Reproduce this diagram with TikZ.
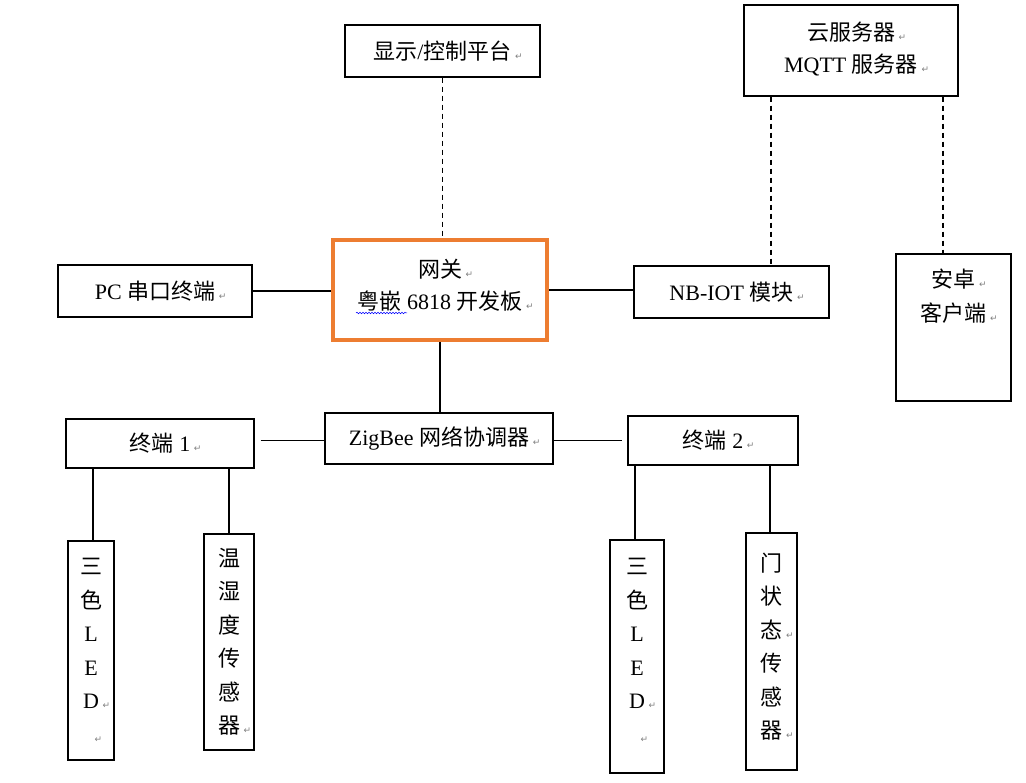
\documentclass[tikz,border=0pt]{standalone}
\usepackage{fontspec}
\setmainfont{Liberation Serif}
\newfontfamily\cjk{Noto Sans CJK SC}
\newfontfamily\symfont{DejaVu Sans}
\usetikzlibrary{positioning,decorations.pathmorphing}
\definecolor{gworange}{RGB}{237,125,49}
\newcommand{\zh}[1]{{\cjk #1}}
\newcommand{\pmark}{\rlap{\,\textcolor{gray}{\symfont\fontsize{9}{9}\selectfont ↵}}}
\tikzset{
	box/.style={draw, line width=1.3pt, fill=white, align=center, inner sep=0pt, font=\fontsize{22}{32}\selectfont},
	vbox/.style={box, font=\fontsize{22}{33.5}\selectfont},
	link/.style={line width=1.3pt},
	dashlink/.style={link, dash pattern=on 5pt off 4pt}
}

\begin{document}
\begin{tikzpicture}[x=1pt, y=-1pt]
		\useasboundingbox (0,0) rectangle (1026,783);
		% top row
		\node[box, minimum width=195, minimum height=52] (disp) at (442.5,51) {\zh{显示}/\zh{控制平台}\pmark};
		\node[box, minimum width=214, minimum height=91] (cloud) at (851,50.5) {\zh{云服务器}\pmark\\MQTT \zh{服务器}\pmark\\[-26pt]~};
		% middle row
		\node[box, draw=gworange, line width=4pt, minimum width=214, minimum height=100] (gw) at (440,290) {\zh{网关}\pmark\\\zh{粤嵌} 6818 \zh{开发板}\pmark\\[-20pt]~};
		\node[box, minimum width=194, minimum height=52] (pc) at (155,291) {PC \zh{串口终端}\pmark};
		\node[box, minimum width=195, minimum height=52] (nb) at (731.5,292) {NB-IOT \zh{模块}\pmark};
		\node[box, minimum width=115, minimum height=147] (app) at (953.5,327.5) {\zh{安卓}\pmark\\[2pt]\zh{客户端}\pmark\\~\\~};
		% zigbee row
		\node[box, minimum width=228, minimum height=51] (zig) at (439,438.5) {ZigBee \zh{网络协调器}\pmark};
		\node[box, minimum width=188, minimum height=49] (t1) at (160,443.5) {\zh{终端} 1\pmark};
		\node[box, minimum width=170, minimum height=49] (t2) at (713,440.5) {\zh{终端} 2\pmark};
		% sensors
		\node[vbox, minimum width=46, minimum height=219] (led1) at (91,650.5) {\zh{三}\\\zh{色}\\L\\E\\D\pmark\\\pmark};
		\node[vbox, minimum width=50, minimum height=216] (th) at (229,642) {\zh{温}\\\zh{湿}\\\zh{度}\\\zh{传}\\\zh{感}\\\zh{器}\pmark};
		\node[vbox, minimum width=54, minimum height=233] (led2) at (637,656.5) {\zh{三}\\\zh{色}\\L\\E\\D\pmark\\\pmark\\[-21.5pt]~};
		\node[vbox, minimum width=51, minimum height=237] (door) at (771.5,651.5) {\zh{门}\\\zh{状}\\\zh{态}\pmark\\\zh{传}\\\zh{感}\\\zh{器}\pmark\\[-21.5pt]~};
		% spell check mark
		\draw[blue, line width=0.5pt, decorate, decoration={snake, amplitude=0.8pt, segment length=3pt}] (356,313) -- (407,313);
		% links
		\draw[dashlink] (disp.south) -- (disp.south |- gw.north);
		\draw[dashlink] ([xshift=-80pt]cloud.south) -- ([xshift=-80pt]cloud.south |- nb.north);
		\draw[dashlink] ([xshift=92pt]cloud.south) -- ([xshift=92pt]cloud.south |- app.north);
		\draw[link] (pc.east) -- (pc.east -| gw.west);
		\draw[link] (gw.east) -- (gw.east -| nb.west);
		\draw[link] (gw.south) -- (gw.south |- zig.north);
		\draw[link] ([xshift=6pt,yshift=-2pt]t1.east |- zig.west) -- ([yshift=-2pt]zig.west);
		\draw[link] ([yshift=-2pt]zig.east) -- ([xshift=-5pt,yshift=-2pt]zig.east -| t2.west);
		\draw[link] ([xshift=2pt]led1.north |- t1.south) -- ([xshift=2pt]led1.north);
		\draw[link] (th.north |- t1.south) -- (th.north);
		\draw[link] ([xshift=-2pt]led2.north |- t2.south) -- ([xshift=-2pt]led2.north);
		\draw[link] ([xshift=-1.5pt]door.north |- t2.south) -- ([xshift=-1.5pt]door.north);
	\end{tikzpicture}
\end{document}
